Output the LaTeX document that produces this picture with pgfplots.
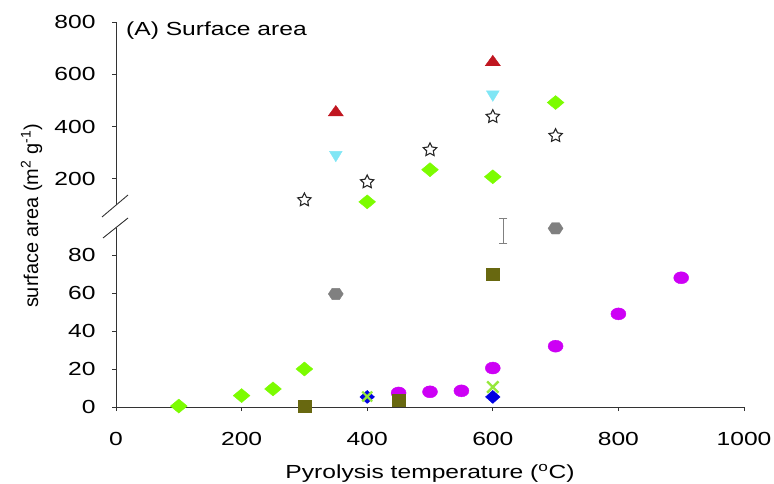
\documentclass[border=0pt]{standalone}
\usepackage{fontspec}
\setmainfont{Liberation Sans}[FakeStretch=1.3]
\newfontfamily\ylabfont{Liberation Sans}
\usepackage{pgfplots}
\pgfplotsset{compat=1.18}
\usetikzlibrary{plotmarks}

\definecolor{lawn}{RGB}{124,252,0}
\definecolor{darkred}{RGB}{192,22,32}
\definecolor{lightcyan}{RGB}{128,230,245}
\definecolor{hexgray}{RGB}{128,128,128}
\definecolor{olive}{RGB}{104,104,16}
\definecolor{purplemag}{RGB}{205,0,245}
\definecolor{markblue}{RGB}{0,0,225}
\definecolor{xgreen}{RGB}{150,232,60}

\pgfdeclareplotmark{hexagon}{%
  \pgfpathmoveto{\pgfqpointpolar{0}{\pgfplotmarksize}}%
  \pgfpathlineto{\pgfqpointpolar{60}{\pgfplotmarksize}}%
  \pgfpathlineto{\pgfqpointpolar{120}{\pgfplotmarksize}}%
  \pgfpathlineto{\pgfqpointpolar{180}{\pgfplotmarksize}}%
  \pgfpathlineto{\pgfqpointpolar{240}{\pgfplotmarksize}}%
  \pgfpathlineto{\pgfqpointpolar{300}{\pgfplotmarksize}}%
  \pgfpathclose\pgfusepathqfillstroke}
\pgfdeclareplotmark{ostar}{%
  \pgfpathmoveto{\pgfqpointpolar{90}{\pgfplotmarksize}}%
  \pgfpathlineto{\pgfqpointpolar{126}{0.5\pgfplotmarksize}}%
  \pgfpathlineto{\pgfqpointpolar{162}{\pgfplotmarksize}}%
  \pgfpathlineto{\pgfqpointpolar{198}{0.5\pgfplotmarksize}}%
  \pgfpathlineto{\pgfqpointpolar{234}{\pgfplotmarksize}}%
  \pgfpathlineto{\pgfqpointpolar{270}{0.5\pgfplotmarksize}}%
  \pgfpathlineto{\pgfqpointpolar{306}{\pgfplotmarksize}}%
  \pgfpathlineto{\pgfqpointpolar{342}{0.5\pgfplotmarksize}}%
  \pgfpathlineto{\pgfqpointpolar{18}{\pgfplotmarksize}}%
  \pgfpathlineto{\pgfqpointpolar{54}{0.5\pgfplotmarksize}}%
  \pgfpathclose\pgfusepathqfillstroke}

\pgfplotsset{
  base/.style={scale only axis,width=628bp,xmin=0,xmax=1000,
    anchor=south west,clip=false,tick align=outside,
    major tick length=4bp,
    axis line style={line width=0.9bp,color=black!80},
    every tick/.style={line width=0.8bp,color=black!80},
    tick label style={font=\fontsize{19}{22}\selectfont},
    y tick label style={xshift=-13bp},
    /pgf/number format/assume math mode=true,
    /pgf/number format/1000 sep={}},
}

\begin{document}
\begin{tikzpicture}
\path[use as bounding box] (0,0) rectangle (774bp,484bp);

% lower part, 0-94
\begin{axis}[base,at={(116bp,77bp)},height=179bp,ymin=0,ymax=94.2,
  axis x line*=bottom,axis y line*=left,
  xtick={0,200,...,1000},ytick={0,20,...,80},
  x tick label style={yshift=-18bp}]
\addplot[only marks,mark=diamond*,mark size=7bp,
  mark options={xscale=1.6,fill=lawn,draw=lawn}]
  coordinates {(100,0.5)(200,6)(250,9.5)(300,20)};
\addplot[only marks,mark=hexagon,mark size=6.5bp,
  mark options={xscale=1.15,fill=hexgray,draw=hexgray}]
  coordinates {(350,59.5)(700,94)};
\addplot[only marks,mark=*,mark size=6bp,
  mark options={xscale=1.25,fill=purplemag,draw=purplemag}]
  coordinates {(450,7.4)(500,8)(550,8.5)(600,20.5)(700,32)(800,49)(900,68)};
\addplot[only marks,mark=square*,mark size=6bp,
  mark options={xscale=1.1,fill=olive,draw=olive}]
  coordinates {(300,0.5)(450,3.7)(600,70)};
\addplot[only marks,mark=x,mark size=8bp,
  mark options={line width=2.4bp,draw=xgreen}]
  coordinates {(600,10.5)};
\addplot[only marks,mark=diamond*,mark size=6.5bp,
  mark options={xscale=1.5,fill=markblue,draw=markblue}]
  coordinates {(400,5.3)(600,5.3)};
\addplot[only marks,mark=x,mark size=7bp,
  mark options={line width=2.2bp,draw=xgreen}]
  coordinates {(400,5.5)};
% range bar
\addplot[gray,line width=1bp,mark=-,mark size=4bp,
  mark options={line width=1bp,gray}]
  coordinates {(617,86)(617,99)};
\end{axis}

% upper part, 100-800
\begin{axis}[base,at={(116bp,279bp)},height=183bp,ymin=100,ymax=800,
  axis x line=none,axis y line*=left,ytick={200,400,600,800}]
\addplot[only marks,mark=diamond*,mark size=7bp,
  mark options={xscale=1.6,fill=lawn,draw=lawn}]
  coordinates {(400,112)(500,235)(600,208)(700,492)};
\addplot[only marks,mark=triangle*,mark size=7bp,
  mark options={xscale=1.25,fill=darkred,draw=darkred}]
  coordinates {(350,454)(600,646)};
\addplot[only marks,mark=triangle*,mark size=7bp,
  mark options={rotate=180,xscale=1.05,fill=lightcyan,draw=lightcyan}]
  coordinates {(350,292)(600,523)};
\addplot[only marks,mark=ostar,mark size=7bp,
  mark options={fill=white,draw=black!85,line width=1.1bp}]
  coordinates {(300,119)(400,188)(500,311)(600,438)(700,365)};
\end{axis}

% axis break marks
\draw[line width=0.9bp,black!80] (102bp,267bp)--(128bp,289bp);
\draw[line width=0.9bp,black!80] (103bp,246bp)--(128bp,266bp);

\node[anchor=base west,inner sep=0pt,font=\fontsize{19}{22}\selectfont]
  at (126bp,448bp) {(A) Surface area};
\node[anchor=base,inner sep=0pt,font=\fontsize{19}{22}\selectfont]
  at (430bp,6bp) {Pyrolysis temperature (\textsuperscript{o}C)};
\node[rotate=90,anchor=base,inner sep=0pt,font=\ylabfont\fontsize{20}{24}\selectfont]
  at (38bp,268bp) {surface area (m\textsuperscript{2} g\textsuperscript{-1})};
\end{tikzpicture}
\end{document}
